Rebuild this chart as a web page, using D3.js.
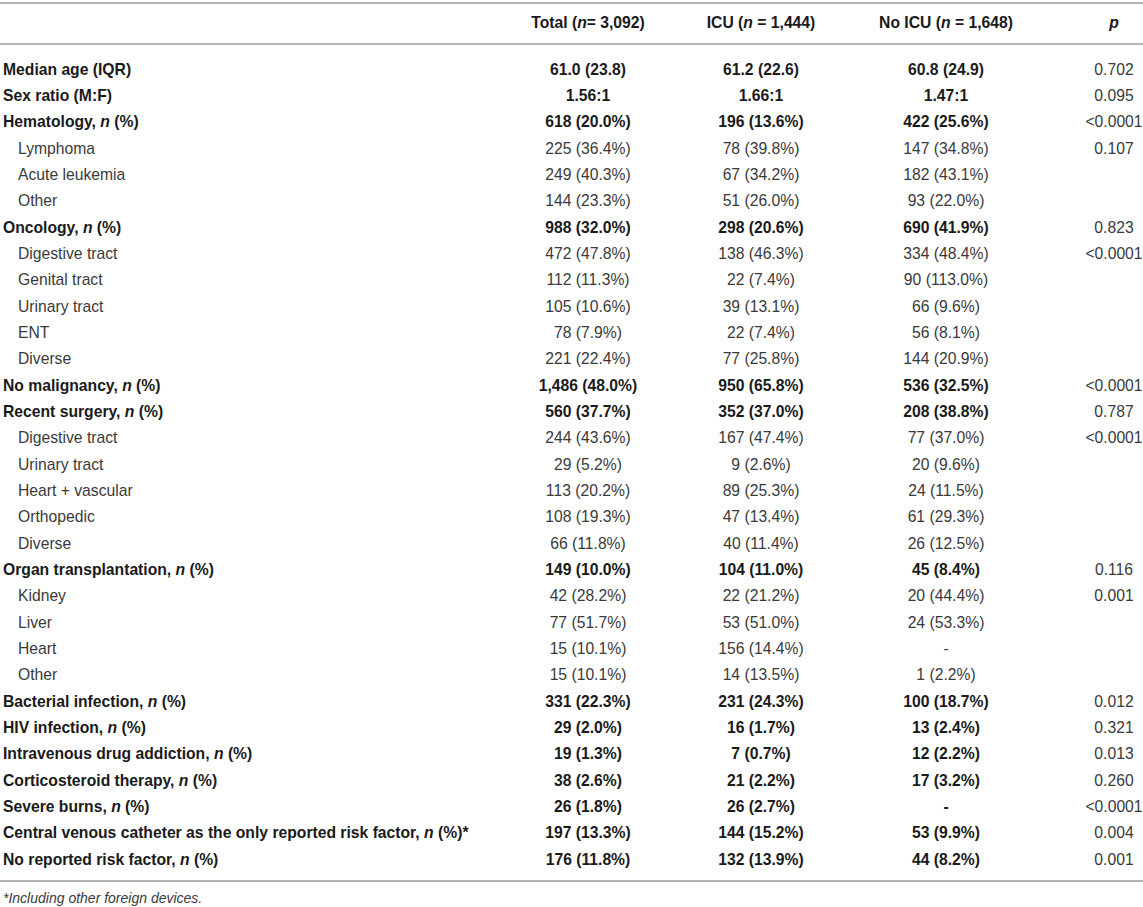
<!DOCTYPE html>
<html lang="en">
<meta charset="UTF-8">
<title>Patient characteristics</title>
<script src="https://d3js.org/d3.v7.min.js"></script>
<style>
  body { margin: 0; background: #fff; }
  svg { font-family: "Liberation Sans", Arial, sans-serif; font-size: 15.7px; }
  .rule { stroke: #b3b3b3; stroke-width: 2; }
  .bold { font-weight: bold; fill: #1a1a1a; }
  .light { fill: #3a3a3a; }
</style>
<body>
<svg width="1143" height="907"></svg>
<script>
// row labels, _n_ marks italic text
var labels = [
  "Median age (IQR)", "Sex ratio (M:F)", "Hematology, _n_ (%)", "Lymphoma", "Acute leukemia", "Other",
  "Oncology, _n_ (%)", "Digestive tract", "Genital tract", "Urinary tract", "ENT", "Diverse",
  "No malignancy, _n_ (%)", "Recent surgery, _n_ (%)", "Digestive tract", "Urinary tract",
  "Heart + vascular", "Orthopedic", "Diverse", "Organ transplantation, _n_ (%)", "Kidney", "Liver",
  "Heart", "Other", "Bacterial infection, _n_ (%)", "HIV infection, _n_ (%)",
  "Intravenous drug addiction, _n_ (%)", "Corticosteroid therapy, _n_ (%)", "Severe burns, _n_ (%)",
  "Central venous catheter as the only reported risk factor, _n_ (%)*", "No reported risk factor, _n_ (%)"
];
// 0 = main row (bold), 1 = sub row
var levels = [0,0,0,1,1,1,0,1,1,1,1,1,0,0,1,1,1,1,1,0,1,1,1,1,0,0,0,0,0,0,0];

var total = ["61.0 (23.8)", "1.56:1", "618 (20.0%)", "225 (36.4%)", "249 (40.3%)", "144 (23.3%)",
  "988 (32.0%)", "472 (47.8%)", "112 (11.3%)", "105 (10.6%)", "78 (7.9%)", "221 (22.4%)",
  "1,486 (48.0%)", "560 (37.7%)", "244 (43.6%)", "29 (5.2%)", "113 (20.2%)", "108 (19.3%)",
  "66 (11.8%)", "149 (10.0%)", "42 (28.2%)", "77 (51.7%)", "15 (10.1%)", "15 (10.1%)",
  "331 (22.3%)", "29 (2.0%)", "19 (1.3%)", "38 (2.6%)", "26 (1.8%)", "197 (13.3%)", "176 (11.8%)"];
var icu = ["61.2 (22.6)", "1.66:1", "196 (13.6%)", "78 (39.8%)", "67 (34.2%)", "51 (26.0%)",
  "298 (20.6%)", "138 (46.3%)", "22 (7.4%)", "39 (13.1%)", "22 (7.4%)", "77 (25.8%)",
  "950 (65.8%)", "352 (37.0%)", "167 (47.4%)", "9 (2.6%)", "89 (25.3%)", "47 (13.4%)",
  "40 (11.4%)", "104 (11.0%)", "22 (21.2%)", "53 (51.0%)", "156 (14.4%)", "14 (13.5%)",
  "231 (24.3%)", "16 (1.7%)", "7 (0.7%)", "21 (2.2%)", "26 (2.7%)", "144 (15.2%)", "132 (13.9%)"];
var noIcu = ["60.8 (24.9)", "1.47:1", "422 (25.6%)", "147 (34.8%)", "182 (43.1%)", "93 (22.0%)",
  "690 (41.9%)", "334 (48.4%)", "90 (113.0%)", "66 (9.6%)", "56 (8.1%)", "144 (20.9%)",
  "536 (32.5%)", "208 (38.8%)", "77 (37.0%)", "20 (9.6%)", "24 (11.5%)", "61 (29.3%)",
  "26 (12.5%)", "45 (8.4%)", "20 (44.4%)", "24 (53.3%)", "-", "1 (2.2%)",
  "100 (18.7%)", "13 (2.4%)", "12 (2.2%)", "17 (3.2%)", "-", "53 (9.9%)", "44 (8.2%)"];
var pvals = ["0.702", "0.095", "<0.0001", "0.107", "", "", "0.823", "<0.0001", "", "", "", "",
  "<0.0001", "0.787", "<0.0001", "", "", "", "", "0.116", "0.001", "", "", "",
  "0.012", "0.321", "0.013", "0.260", "<0.0001", "0.004", "0.001"];

var headers = ["", "Total (_n_= 3,092)", "ICU (_n_ = 1,444)", "No ICU (_n_ = 1,648)", "_p_"];
var footnote = "*Including other foreign devices.";

var svg = d3.select("svg");
var W = 1143;

var cols = ["label", "total", "icu", "noIcu", "p"];
var colX = d3.scaleOrdinal().domain(cols).range([3, 588, 761, 946, 1114]);
var rowY = d3.scalePoint().domain(d3.range(labels.length)).range([69, 859]);

// write text with _..._ parts in italic
function rich(sel, str) {
  str.split("_").forEach(function(part, i) {
    if (part === "") return;
    var t = sel.append("tspan").text(part);
    if (i % 2 === 1) t.style("font-style", "italic");
  });
}

// rules
[3, 44, 881].forEach(function(y) {
  svg.append("line").attr("class", "rule")
    .attr("x1", 0).attr("x2", W).attr("y1", y).attr("y2", y);
});

// header
svg.selectAll("text.head").data(headers).enter()
  .append("text").attr("class", "head bold")
  .attr("x", (d, i) => colX(cols[i]))
  .attr("y", 23).attr("dy", "0.35em")
  .attr("text-anchor", (d, i) => i === 0 ? "start" : "middle")
  .each(function(d) { rich(d3.select(this), d); });

// body rows
var rows = svg.selectAll("g.row").data(labels).enter()
  .append("g").attr("class", (d, i) => "row " + (levels[i] === 0 ? "bold" : "light"))
  .attr("transform", (d, i) => "translate(0," + rowY(i) + ")");

rows.append("text")
  .attr("x", (d, i) => colX("label") + (levels[i] === 1 ? 15 : 0))
  .attr("dy", "0.35em")
  .each(function(d) { rich(d3.select(this), d); });

[["total", total], ["icu", icu], ["noIcu", noIcu]].forEach(function(c) {
  rows.append("text")
    .attr("x", colX(c[0]))
    .attr("dy", "0.35em")
    .attr("text-anchor", "middle")
    .text((d, i) => c[1][i]);
});

rows.append("text")
  .attr("class", "light")
  .style("font-weight", "normal")
  .attr("x", colX("p"))
  .attr("dy", "0.35em")
  .attr("text-anchor", "middle")
  .text((d, i) => pvals[i]);

svg.append("text").attr("class", "light")
  .attr("x", 3).attr("y", 898).attr("dy", "0.35em")
  .style("font-size", "14px").style("font-style", "italic")
  .text(footnote);
</script>
</body>
</html>
